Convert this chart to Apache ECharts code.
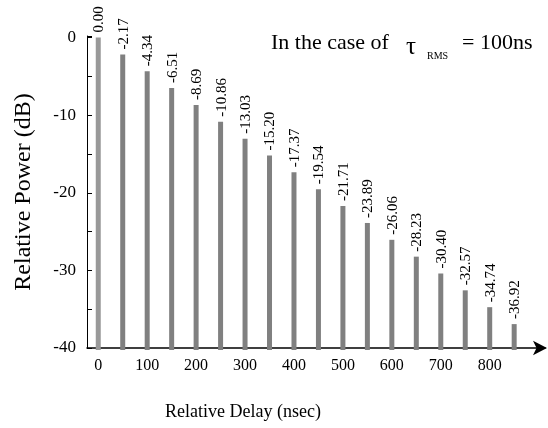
<!DOCTYPE html>
<html>
<head>
<meta charset="utf-8">
<script src="https://cdn.jsdelivr.net/npm/echarts@6/dist/echarts.min.js"></script>
<style>
html,body{margin:0;padding:0;background:#fff;}
#c{width:548px;height:428px;}
</style>
</head>
<body>
<div id="c"></div>
<script>
// Data
var delays = [0, 50, 100, 150, 200, 250, 300, 350, 400, 450, 500, 550, 600, 650, 700, 750, 800, 850];
var powers = [0.00, -2.17, -4.34, -6.51, -8.69, -10.86, -13.03, -15.20, -17.37, -19.54, -21.71, -23.89, -26.06, -28.23, -30.40, -32.57, -34.74, -36.92];
var xTickLabels = [0, 100, 200, 300, 400, 500, 600, 700, 800];
var yTickLabels = [-40, -30, -20, -10, 0];
var yTicks = [-40, -35, -30, -25, -20, -15, -10, -5, 0];

var FONT = '"Liberation Serif", "DejaVu Serif", serif';
var BASE = -40;

var chart = echarts.init(document.getElementById('c'), null, {renderer: 'canvas'});

var seriesData = delays.map(function (d, i) { return [d, powers[i]]; });

chart.setOption({
  animation: false,
  backgroundColor: '#ffffff',
  grid: {left: 87, top: 36, width: 458, height: 312, containLabel: false},
  xAxis: {
    type: 'value',
    min: -23,
    max: 913,
    splitLine: {show: false},
    axisLine: {show: true, onZero: false, lineStyle: {color: '#000', width: 1.5},
      symbol: ['none', 'arrow'], symbolSize: [11, 14], symbolOffset: [0, 2]},
    axisTick: {show: false},
    axisLabel: {
      customValues: xTickLabels,
      color: '#000', fontFamily: FONT, fontSize: 16, margin: 10
    }
  },
  yAxis: {
    type: 'value',
    min: BASE,
    max: 0.2,
    splitLine: {show: false},
    axisLine: {show: true, onZero: false, lineStyle: {color: '#000', width: 1}},
    axisTick: {show: true, inside: true, length: 5, customValues: yTicks.concat([0.2]), lineStyle: {color: '#000'}},
    axisLabel: {
      customValues: yTickLabels,
      color: '#000', fontFamily: FONT, fontSize: 17, margin: 11
    },
    name: 'Relative Power (dB)',
    nameLocation: 'middle',
    nameGap: 51,
    nameRotate: 90,
    nameTextStyle: {color: '#000', fontFamily: FONT, fontSize: 24}
  },
  graphic: [
    {
      type: 'text',
      left: 165, top: 403,
      style: {text: 'Relative Delay (nsec)', fill: '#000', font: '18px ' + FONT}
    },
    {
      type: 'text', x: 271, y: 32,
      style: {text: 'In the case of', fill: '#000', font: '22px ' + FONT, verticalAlign: 'top'}
    },
    {
      type: 'text', x: 406, y: 35,
      style: {text: 'τ', fill: '#000', font: '25px ' + FONT, verticalAlign: 'top'}
    },
    {
      type: 'text', x: 427, y: 51,
      style: {text: 'RMS', fill: '#000', font: '10px ' + FONT, verticalAlign: 'top'}
    },
    {
      type: 'text', x: 462, y: 32,
      style: {text: '= 100ns', fill: '#000', font: '22px ' + FONT, verticalAlign: 'top'}
    }
  ],
  series: [{
    type: 'custom',
    data: seriesData,
    clip: false,
    renderItem: function (params, api) {
      var x = api.value(0), v = api.value(1);
      var top = api.coord([x, v]);
      var bot = api.coord([x, BASE]);
      var w = 5;
      var color = params.dataIndex === 0 ? '#999999' : '#808080';
      return {
        type: 'group',
        children: [
          {type: 'rect', shape: {x: top[0] - w / 2, y: top[1], width: w, height: bot[1] - top[1] + 2},
            style: {fill: color}},
          {type: 'text', x: top[0] + 1, y: top[1] - 5, rotation: Math.PI / 2,
            style: {text: v.toFixed(2), fill: '#000', font: '15px ' + FONT, align: 'left', verticalAlign: 'middle'}}
        ]
      };
    }
  }]
});
</script>
</body>
</html>
